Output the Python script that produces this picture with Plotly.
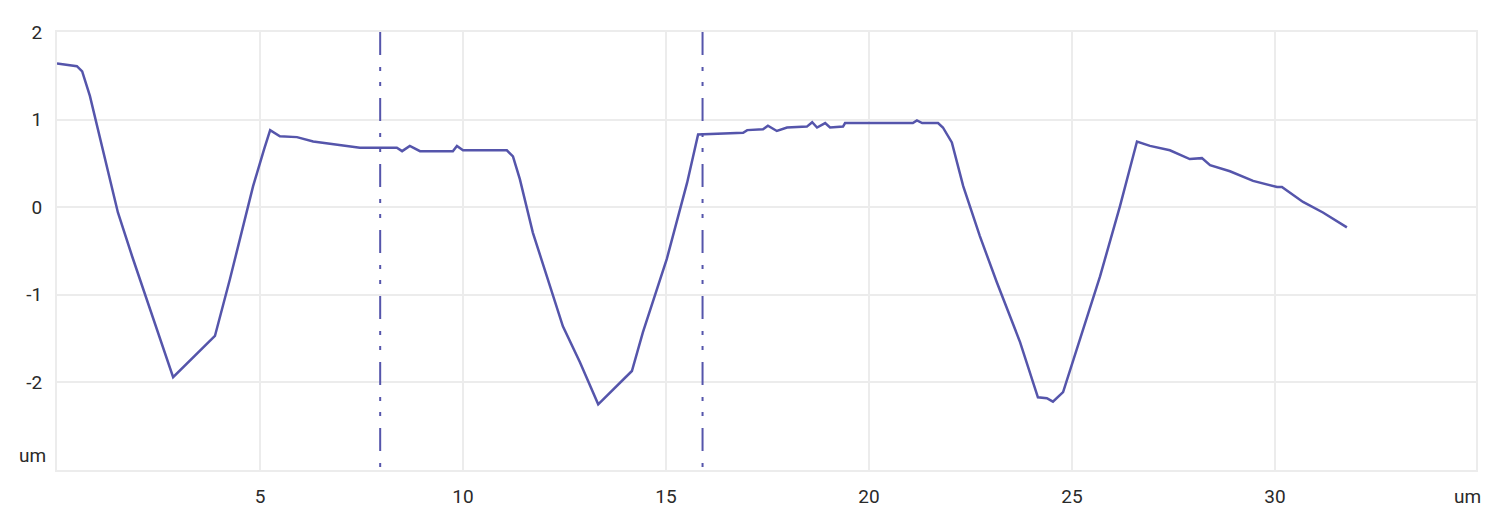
import plotly.graph_objects as go

# Profile data (um)
x_um = [0.0, 0.49, 0.62, 0.81, 1.5, 1.85, 2.86, 3.89, 4.26, 4.83, 5.1, 5.25, 5.49, 5.91,
        6.31, 6.8, 7.46, 7.96, 8.37, 8.5, 8.69, 8.94, 9.75, 9.85, 10.0, 11.08, 11.23,
        11.4, 11.72, 12.46, 12.88, 13.33, 14.16, 14.43, 15.02, 15.52, 15.79, 16.9, 17.0,
        17.39, 17.51, 17.73, 17.98, 18.47, 18.6, 18.72, 18.92, 19.04, 19.36, 19.41, 21.08,
        21.18, 21.31, 21.7, 21.82, 22.04, 22.32, 22.73, 23.15, 23.72, 24.16, 24.38, 24.53,
        24.78, 25.12, 25.69, 26.18, 26.6, 26.92, 27.41, 27.9, 28.2, 28.4, 28.89, 29.46,
        30.05, 30.17, 30.69, 31.18, 31.77]
height_um = [1.64, 1.61, 1.55, 1.27, -0.06, -0.56, -1.94, -1.47, -0.82, 0.24, 0.66, 0.88,
             0.81, 0.80, 0.75, 0.72, 0.68, 0.68, 0.68, 0.64, 0.70, 0.64, 0.64, 0.70, 0.65,
             0.65, 0.58, 0.32, -0.29, -1.36, -1.77, -2.25, -1.87, -1.43, -0.59, 0.28, 0.83,
             0.85, 0.88, 0.89, 0.93, 0.87, 0.91, 0.92, 0.97, 0.91, 0.96, 0.91, 0.92, 0.96,
             0.96, 0.99, 0.96, 0.96, 0.91, 0.74, 0.24, -0.33, -0.86, -1.54, -2.17, -2.18,
             -2.22, -2.11, -1.62, -0.79, 0.01, 0.75, 0.70, 0.65, 0.55, 0.56, 0.48, 0.41,
             0.30, 0.23, 0.23, 0.06, -0.06, -0.23]

cursor_x = [7.96, 15.9]
x_ticks = [5, 10, 15, 20, 25, 30]
y_ticks = [-2, -1, 0, 1, 2]
unit_label = "um"

LINE = "#5555ab"
GRID = "#ececec"
TXT = "#2a2a2a"
FONT = "Liberation Sans Narrow, Arial Narrow, Roboto, Liberation Sans, Arial, sans-serif"

fig = go.Figure()
fig.add_trace(go.Scatter(x=x_um, y=height_um, mode="lines",
                         line=dict(color=LINE, width=2.5), showlegend=False,
                         hoverinfo="skip"))

for cx in cursor_x:
    fig.add_shape(type="line", xref="x", yref="y", x0=cx, x1=cx, y0=2, y1=-3,
                  line=dict(color=LINE, width=2, dash="23px,12px,4px,11px,4px,12px"))

fig.add_annotation(x=0, xref="paper", xanchor="right", xshift=-9,
                   y=-2.83, yref="y", yanchor="middle", text=unit_label,
                   showarrow=False, font=dict(family=FONT, size=19, color=TXT))
fig.add_annotation(x=0.9937, xref="paper", xanchor="center",
                   y=-0.0616, yref="paper", yanchor="middle", text=unit_label,
                   showarrow=False, font=dict(family=FONT, size=19, color=TXT))

fig.update_layout(
    width=1485, height=511,
    margin=dict(l=57, r=9, t=32, b=41, autoexpand=False),
    paper_bgcolor="white", plot_bgcolor="white",
    font=dict(family=FONT, size=19, color=TXT),
    xaxis=dict(range=[0, 34.95], tickvals=x_ticks, ticktext=[str(v) for v in x_ticks],
               showgrid=True, gridcolor=GRID, gridwidth=2, zeroline=False,
               showline=True, linecolor=GRID, linewidth=2, mirror=True,
               ticks="", ticklabelstandoff=8, automargin=False),
    yaxis=dict(range=[-3, 2], tickvals=y_ticks, ticktext=[str(v) for v in y_ticks],
               showgrid=True, gridcolor=GRID, gridwidth=2, zeroline=False,
               showline=True, linecolor=GRID, linewidth=2, mirror=True,
               ticks="", ticklabelstandoff=9, automargin=False),
)

# remove the page's default body margin so the figure fills the window exactly
fig.write_html(
    "out.html",
    config={"displayModeBar": False},
    post_script="document.body.style.margin='0';document.body.style.overflow='hidden';",
)
